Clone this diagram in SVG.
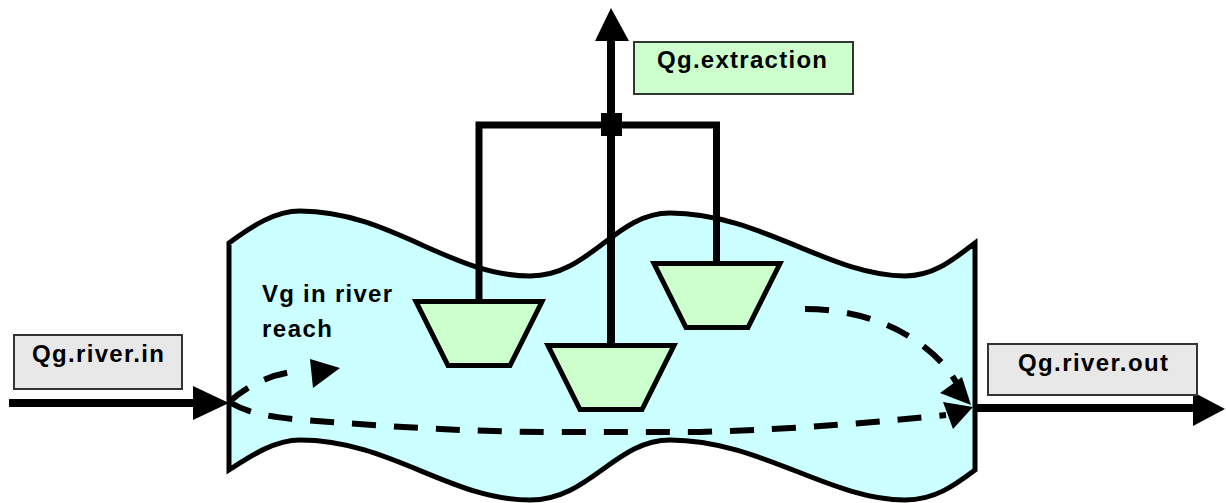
<svg xmlns="http://www.w3.org/2000/svg" width="1226" height="503" viewBox="0 0 1226 503">
  <style>
    .lbl { font-family: "Liberation Sans", Arial, sans-serif; font-weight: bold; font-size: 24px; fill: #000; }
    .funnel { fill: #CCFFCC; stroke: #000; stroke-width: 5; stroke-linejoin: miter; }
    .pipe { fill: none; stroke: #000; stroke-linejoin: miter; }
    .flow { fill: none; stroke: #000; stroke-width: 6; stroke-dasharray: 24 18; }
    .box { stroke: #333; stroke-width: 2; }
  </style>
  <rect width="1226" height="503" fill="#fff"/>

  <g id="river-reach">
    <path d="M229,243 C252,226 275,211 300,211 C390,211 450,276 530,276 C590,276 615,213 670,213 C760,213 830,276 905,276 C935,276 955,258 975,243 L975,470 C955,485 935,500 905,500 C830,500 760,440 670,440 C615,440 590,500 530,500 C450,500 390,440 300,440 C275,440 252,455 229,470 Z" fill="#CCFFFF" stroke="#000" stroke-width="5" stroke-linejoin="miter"/>
    <text class="lbl" x="262" y="302" textLength="130" lengthAdjust="spacing">Vg in river</text>
    <text class="lbl" x="262" y="337" textLength="70" lengthAdjust="spacing">reach</text>
  </g>

  <g id="connectors">
    <path class="pipe" d="M479,299 V125 H716.5 V261" stroke-width="7"/>
    <path class="pipe" d="M611,343 V36" stroke-width="8"/>
    <polygon points="595,41 611,8 629,41" fill="#000"/>
    <rect x="601" y="113" width="21" height="23" fill="#000"/>
    <path class="pipe" d="M9,403 H200" stroke-width="8"/>
    <polygon points="193,386 229,403 193,420" fill="#000"/>
    <path class="pipe" d="M975,408 H1196" stroke-width="8"/>
    <polygon points="1193,392 1225,409 1193,426" fill="#000"/>
    <path class="flow" d="M229,402 C245,388 265,376 292,372"/>
    <polygon points="310,359 340,368 313,388" fill="#000"/>
    <path class="flow" d="M229,402 C250,414 270,418 330,422 C400,427 470,432 560,432 L700,432 C800,429 880,422 946,415"/>
    <polygon points="943,402 973,407 953,429" fill="#000"/>
    <path class="flow" d="M805,309 C880,309 935,345 956,382"/>
    <polygon points="940,393 962,377 971,405" fill="#000"/>
  </g>

  <g id="well-1">
    <polygon class="funnel" points="416,301.5 542,301.5 510,365.5 448,365.5"/>
  </g>
  <g id="well-2">
    <polygon class="funnel" points="548,345.5 674,345.5 642,409.5 580,409.5"/>
  </g>
  <g id="well-3">
    <polygon class="funnel" points="654,263.5 780,263.5 748,327.5 686,327.5"/>
  </g>

  <g id="qg-extraction">
    <rect class="box" x="634" y="42" width="219" height="52" fill="#CCFFCC"/>
    <text class="lbl" x="657" y="68" textLength="170" lengthAdjust="spacing">Qg.extraction</text>
  </g>
  <g id="qg-river-in">
    <rect class="box" x="14" y="335" width="168" height="54" fill="#E8E8E8"/>
    <text class="lbl" x="32" y="362" textLength="132" lengthAdjust="spacing">Qg.river.in</text>
  </g>
  <g id="qg-river-out">
    <rect class="box" x="988" y="344" width="209" height="51" fill="#E8E8E8"/>
    <text class="lbl" x="1018" y="371" textLength="150" lengthAdjust="spacing">Qg.river.out</text>
  </g>
</svg>
